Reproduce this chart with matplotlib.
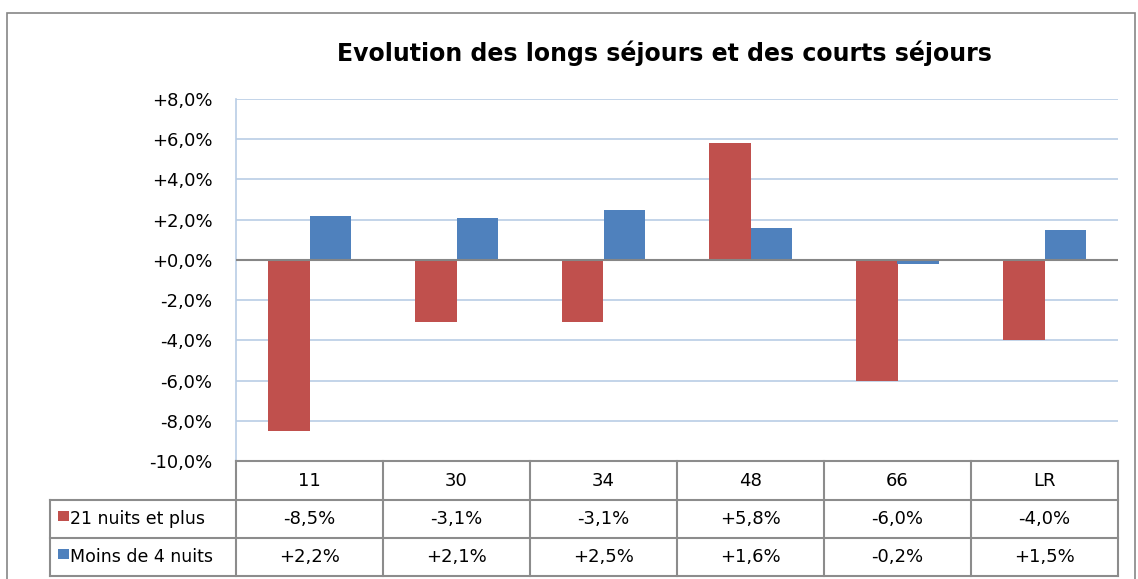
import matplotlib.pyplot as plt
from matplotlib.lines import Line2D
from matplotlib.patches import Rectangle

plt.rcParams['font.family'] = ['DejaVu Sans']

categories = ['11', '30', '34', '48', '66', 'LR']
long_stays = [-8.5, -3.1, -3.1, 5.8, -6.0, -4.0]
short_stays = [2.2, 2.1, 2.5, 1.6, -0.2, 1.5]
series_names = ['21 nuits et plus', 'Moins de 4 nuits']
y_ticks = [-10, -8, -6, -4, -2, 0, 2, 4, 6, 8]

RED = '#C0504D'
BLUE = '#4F81BD'
GRID = '#B9CDE5'
EDGE = '#8C8C8C'

W, H = 1138, 579
fig = plt.figure(figsize=(W / 100, H / 100), dpi=100)


def fx(x):
    return x / W


def fy(y):
    return 1 - y / H


def pct(v):
    return ('%+.1f%%' % v).replace('.', ',')


# outer chart border
fig.add_artist(Rectangle((fx(7), fy(600)), fx(1135 - 7), fy(13) - fy(600),
                         fill=False, edgecolor='#868686', lw=1.2,
                         transform=fig.transFigure))

fig.text(fx(664), fy(53), 'Evolution des longs séjours et des courts séjours',
         ha='center', va='center', fontsize=17, fontweight='bold')

left, right, top, bottom = 236, 1118, 99, 461
ax = fig.add_axes([fx(left), fy(bottom), fx(right - left), fy(top) - fy(bottom)])

x = list(range(len(categories)))
w = 0.28
ax.bar([i - w / 2 for i in x], long_stays, width=w, color=RED, zorder=3)
ax.bar([i + w / 2 for i in x], short_stays, width=w, color=BLUE, zorder=3)
ax.axhline(0, color='#868686', lw=1.5, zorder=4)

ax.set_xlim(-0.5, len(categories) - 0.5)
ax.set_ylim(-10, 8)
ax.set_yticks(y_ticks)
ax.set_yticklabels([pct(v) for v in y_ticks])
ax.tick_params(axis='y', length=0, pad=17, labelsize=13)
ax.set_xticks([])
ax.grid(axis='y', color=GRID, lw=1.2, zorder=0)
for s in ['top', 'right', 'bottom']:
    ax.spines[s].set_visible(False)
ax.spines['left'].set_color(GRID)
ax.spines['left'].set_linewidth(1.2)

# data table below the axes
col_w = (right - left) / len(categories)
row_y = [461, 500, 538, 576]
lab_left = 50


def hline(y, x0, x1):
    fig.add_artist(Line2D([fx(x0), fx(x1)], [fy(y), fy(y)], color=EDGE, lw=1.5,
                          transform=fig.transFigure))


def vline(x, y0, y1):
    fig.add_artist(Line2D([fx(x), fx(x)], [fy(y0), fy(y1)], color=EDGE, lw=1.5,
                          transform=fig.transFigure))


hline(row_y[0], left, right)
for y in row_y[1:]:
    hline(y, lab_left, right)
vline(lab_left, row_y[1], row_y[3])
for k in range(len(categories) + 1):
    vline(left + k * col_w, row_y[0], row_y[3])

for k, cat in enumerate(categories):
    cx = left + (k + 0.5) * col_w
    fig.text(fx(cx), fy((row_y[0] + row_y[1]) / 2), cat, ha='center', va='center', fontsize=13)
    for r, vals in enumerate([long_stays, short_stays]):
        fig.text(fx(cx), fy((row_y[r + 1] + row_y[r + 2]) / 2), pct(vals[k]),
                 ha='center', va='center', fontsize=13)

for r, (name, col) in enumerate(zip(series_names, [RED, BLUE])):
    cy = (row_y[r + 1] + row_y[r + 2]) / 2
    fig.add_artist(Rectangle((fx(58), fy(cy + 2)), fx(11), fy(cy - 8) - fy(cy + 2),
                             facecolor=col, edgecolor='none', transform=fig.transFigure))
    fig.text(fx(70), fy(cy), name, ha='left', va='center', fontsize=12.5)

fig.savefig('out.png', dpi=100)
